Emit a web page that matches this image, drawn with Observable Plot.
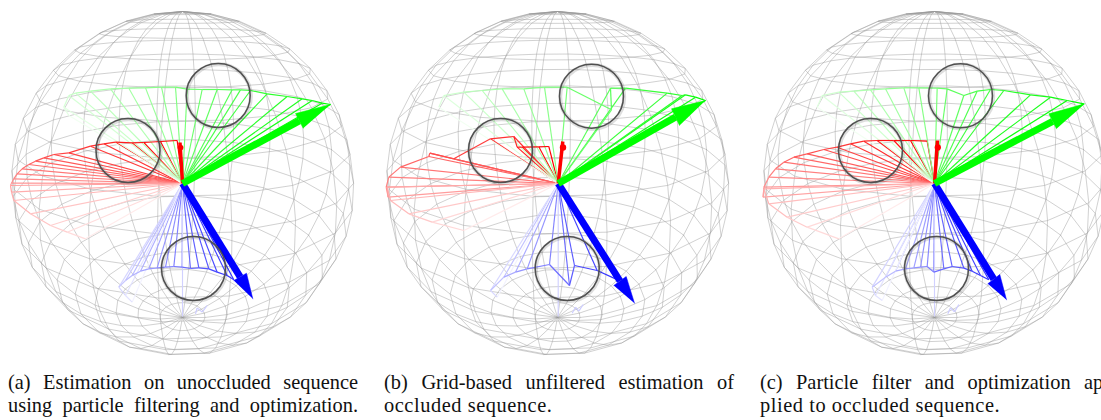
<!DOCTYPE html>
<html><head><meta charset="utf-8">
<script src="https://cdn.jsdelivr.net/npm/d3@7"></script>
<script src="https://cdn.jsdelivr.net/npm/@observablehq/plot@0.6"></script>
<style>
html,body{margin:0;padding:0;background:#fff;overflow:hidden;width:1101px;height:420px}
#wrap{position:relative;width:1101px;height:420px;overflow:hidden}
svg{display:block;max-width:none!important}
.cap{position:absolute;top:360px;width:350px;font:20.4px/22.5px "Liberation Serif",serif;color:#111;padding-top:11px}
.cap span{display:block;white-space:nowrap;letter-spacing:0.55px}
.cap .j{text-align:justify;text-align-last:justify;white-space:normal;letter-spacing:0}
</style></head><body><div id="wrap"></div>
<script>
// panel origins (arrow root)
const originX = [182, 557.7, 934];
const originY = 183;
const sphereX = [182, 557, 934];
const sphereR = 172;
// wireframe: stacks and slices of the drawn sphere
const stackAngles = [9,18,27,36,45,54,63,72,81,90,99,108,117,126,135,144,153,162,171];
const sliceAngles = [0,18,36,54,72,90,108,126,144,162,180,198,216,234,252,270,288,306,324,342];
const pathAngles = [0,9,18,27,36,45,54,63,72,81,90,99,108,117,126,135,144,153,162,171,180];
const slicePhase = 12;
const camDist = 2.9, axisToward = 0.36, axisUp = 0.933;

const greenA = [[990,312],[965,308],[935,300],[905,295],[860,288],[800,280],[750,270],[720,268],[695,268],[650,267],[605,267],[560,266],[525,260],[483,260],[435,262],[385,263],[330,265],[270,272],[225,278],[205,285],[190,320],[205,345]];
const redA1 = [[530,420],[480,423],[430,426],[395,427],[345,425],[310,430],[270,437],[205,457],[160,462],[130,472],[105,482],[85,492],[65,505],[50,520],[40,535],[33,548]];
const redA2 = [[30,15],[33,35],[40,60],[90,100],[150,135],[200,155],[255,175]];
const blueA = [[700,298],[680,285],[650,275],[625,265],[595,262],[570,264],[545,260],[520,258],[495,260],[470,262],[445,265],[420,272],[395,285],[375,300],[355,320],[375,345],[395,365]];

const greenB = [[990,150],[960,140],[930,133],[920,135],[875,128],[750,113],[705,113],[708,178],[575,110],[507,110],[445,115],[380,115],[320,120],[265,125],[205,135],[190,170]];
const redB1 = [[520,288],[490,289],[440,290],[425,290],[415,258],[345,265],[235,325],[163,308],[160,318],[75,350],[40,380],[32,410],[38,440]];
const redB2 = [[35,20],[45,60],[100,100],[170,125],[265,150]];
const blueB = [[720,295],[665,270],[597,255],[582,315],[522,252],[455,265],[420,275],[385,290],[345,330],[365,350]];

const greenC = [[1000,160],[950,150],[900,140],[840,133],[760,120],[720,117],[680,122],[640,135],[590,115],[560,113],[505,112],[460,112],[405,115],[360,118],[310,122],[265,125],[215,135],[200,170]];
const redC1 = [[530,272],[480,270],[430,270],[380,270],[340,272],[300,280],[260,290],[220,297],[170,310],[130,320],[100,335],[75,355],[55,380],[40,410],[38,440]];
const redC2 = [[40,25],[55,70],[110,110],[170,140],[265,175]];
const blueC = [[715,298],[690,285],[665,272],[640,263],[605,258],[580,265],[550,275],[530,258],[510,260],[490,262],[465,265],[435,272],[405,290],[365,320],[375,345],[395,360]];

// small faded stroke near the lower pole and faded vertical, crop units
const blueStubA = [[585,400],[590,382],[605,395],[620,375]];
const blueStubB = [[590,398],[600,380],[610,392],[623,372]];
const blueStubC = [[592,400],[600,382],[612,394],[625,372]];

// arrows: tip, two head corners in picture pixels
const greenHeads = [[[330,104],[295,113],[302.7,127.7]],[[705,100],[671,108.3],[679,125]],[[1084.3,103.3],[1048.3,113.3],[1056,128.3]]];
const blueHeads = [[[252.3,298.3],[246,272.7],[233.3,280]],[[634,302.7],[625.7,276],[613.3,285]],[[1006,299.3],[999.3,274],[987.3,283.3]]];
const redKnobs = [[180,147,5],[562.5,147,6.3],[937.3,147,6]];
const redTips = [[179.5,142],[562.3,141],[937,140]];
// highlight circles: centre x, centre y
const rings = [[217.7,95],[127.5,150],[193,268],[591,95.7],[500,150],[566.7,268],[960,95.3],[870,150],[936,268]];
const ringR = 32;

const rad = Math.PI/180;
function project(colat, lon, cx){
  const t=colat*rad, l=(lon+slicePhase)*rad;
  const ct=Math.cos(t), st=Math.sin(t);
  const px=st*Math.cos(l);
  const py=ct*axisUp+st*Math.sin(l)*axisToward;
  const pz=ct*axisToward-st*Math.sin(l)*axisUp;
  const f=sphereR*Math.sqrt(camDist*camDist-1);
  const k=f/(camDist-pz);
  return {x:cx+px*k,y:originY-py*k};
}
const wire=[];
let id=0;
for(const cx of sphereX){
  for(const c of stackAngles){id++;for(const l of [...sliceAngles,360])wire.push({...project(c,l,cx),id});}
  for(const l of sliceAngles){id++;for(const c of pathAngles)wire.push({...project(c,l,cx),id});}
}
const read=(pts,ox,oy)=>pts.map(([x,y])=>[ox+x/3,oy+y/3]);
const mix=(col,o)=>d3.interpolateRgb("#fff",col)(o);
const spokes=[],edges=[];
function fan(pts,col,ox,op0,op1,pow){
  const n=pts.length;
  pts.forEach((p,i)=>{
    const u=i/(n-1);
    const o=op1+(op0-op1)*Math.pow(1-u,pow);
    const c=mix(col,o);
    spokes.push({x1:ox,y1:originY,x2:p[0],y2:p[1],c});
    if(i<n-1)edges.push({x1:p[0],y1:p[1],x2:pts[i+1][0],y2:pts[i+1][1],c});
  });
}
const panels=[
 {g:read(greenA,0,0),r:[...read(redA1,0,0),...read(redA2,0,180)],b:read(blueA,0,180),s:read(blueStubA,0,180)},
 {g:read(greenB,375,50),r:[...read(redB1,375,50),...read(redB2,375,180)],b:read(blueB,375,180),s:read(blueStubB,375,180)},
 {g:read(greenC,750,50),r:[...read(redC1,750,50),...read(redC2,750,180)],b:read(blueC,750,180),s:read(blueStubC,750,180)}
];
panels.forEach((p,i)=>{
  const ox=originX[i];
  fan(p.r,"#ff0000",ox,1,0.08,0.9);
  fan(p.b,"#0000ff",ox,0.8,0.05,0.9);
  fan(p.g,"#00ff00",ox,1,0.05,0.9);
  for(let k=0;k<p.s.length-1;k++)edges.push({x1:p.s[k][0],y1:p.s[k][1],x2:p.s[k+1][0],y2:p.s[k+1][1],c:mix("#0000ff",0.2)});
  spokes.push({x1:ox,y1:originY,x2:ox,y2:316,c:mix("#0000ff",0.18)});
});
const shafts=(heads)=>heads.map((h,i)=>({x1:originX[i],y1:originY,x2:(h[1][0]+h[2][0])/2,y2:(h[1][1]+h[2][1])/2}));
const tri=(heads)=>heads.flatMap((h,i)=>h.map(p=>({x:p[0],y:p[1],i})));

const chart=Plot.plot({
  width:1101,height:360,margin:0,
  x:{domain:[0,1101],axis:null},
  y:{domain:[360,0],axis:null},
  style:{background:"#fff"},
  marks:[
    Plot.line(wire,{x:"x",y:"y",z:"id",stroke:"#9a9a9a",strokeWidth:0.5,strokeOpacity:0.9}),
    Plot.link(spokes,{x1:"x1",y1:"y1",x2:"x2",y2:"y2",stroke:"c",strokeWidth:1.15}),
    Plot.link(edges,{x1:"x1",y1:"y1",x2:"x2",y2:"y2",stroke:"c",strokeWidth:1.2}),
    Plot.link(redTips.map((t,i)=>({x1:originX[i],y1:originY,x2:t[0],y2:t[1]})),{x1:"x1",y1:"y1",x2:"x2",y2:"y2",stroke:"#f00",strokeWidth:3.5}),
    Plot.dot(redKnobs,{x:d=>d[0],y:d=>d[1],r:d=>d[2],fill:"#f00",stroke:"none"}),
    Plot.link(shafts(blueHeads),{x1:"x1",y1:"y1",x2:"x2",y2:"y2",stroke:"#00f",strokeWidth:7}),
    Plot.line(tri(blueHeads),{x:"x",y:"y",z:"i",fill:"#00f",stroke:"#00f",strokeWidth:0.5}),
    Plot.link(shafts(greenHeads),{x1:"x1",y1:"y1",x2:"x2",y2:"y2",stroke:"#0f0",strokeWidth:7}),
    Plot.line(tri(greenHeads),{x:"x",y:"y",z:"i",fill:"#0f0",stroke:"#0f0",strokeWidth:0.5}),
    Plot.dot(rings,{x:d=>d[0]+0.7,y:d=>d[1]+0.7,r:ringR,stroke:"#000",strokeOpacity:0.13,strokeWidth:4,fill:"none"}),
    Plot.dot(rings,{x:d=>d[0],y:d=>d[1],r:ringR,stroke:"#505050",strokeWidth:1.5,fill:"none"})
  ]
});
const wrap=document.getElementById("wrap");
wrap.appendChild(chart);
const captions=[
 {left:8,l1:"(a) Estimation on unoccluded sequence",l2:"using particle filtering and optimization.",j2:true},
 {left:384,l1:"(b) Grid-based unfiltered estimation of",l2:"occluded sequence.",j2:false},
 {left:760,l1:"(c) Particle filter and optimization ap-",l2:"plied to occluded sequence.",j2:false}
];
for(const c of captions){
  const d=document.createElement("div");d.className="cap";d.style.left=c.left+"px";
  const a=document.createElement("span");a.className="j";a.textContent=c.l1;
  const b=document.createElement("span");if(c.j2)b.className="j";b.textContent=c.l2;
  d.append(a,b);wrap.appendChild(d);
}
</script></body></html>
